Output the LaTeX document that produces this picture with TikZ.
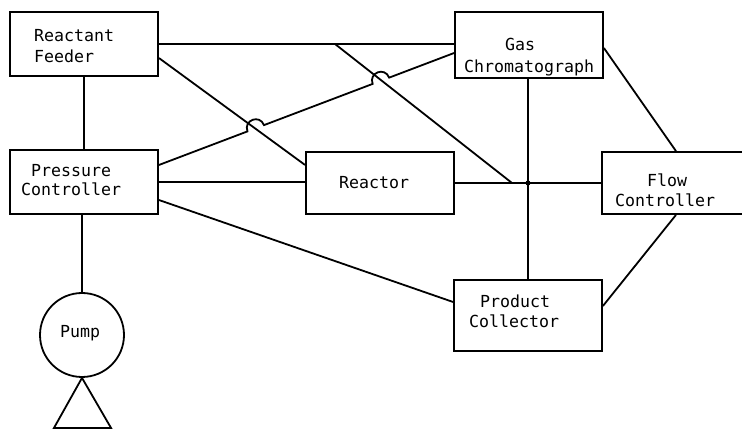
\documentclass[tikz,border=0pt]{standalone}
\usepackage{fontspec}
\newfontfamily\diagmono{DejaVu Sans Mono}
\usetikzlibrary{calc}
\begin{document}
\begin{tikzpicture}[x=1pt,y=1pt,
  box/.style={draw, line width=1.8pt, rectangle, inner sep=0pt},
  conn/.style={line width=1.8pt},
  lbl/.style={font=\diagmono\fontsize{16.6}{20}\selectfont, inner sep=0pt, anchor=base west}]
\useasboundingbox (0,0) rectangle (742,-430);
\clip (0,0) rectangle (742,-430);
% boxes
\node[box, minimum width=148, minimum height=64] (RF) at (84,-44) {};
\node[box, minimum width=148, minimum height=64] (PC) at (84,-182) {};
\node[box, minimum width=148, minimum height=62] (RE) at (380,-183) {};
\node[box, minimum width=148, minimum height=66] (GC) at (529,-45) {};
\node[box, minimum width=148, minimum height=62] (FC) at (676,-183) {};
\node[box, minimum width=148, minimum height=71] (PR) at (528,-315.5) {};
\node[draw, line width=1.8pt, circle, inner sep=0pt, minimum size=84] (PU) at (82,-335) {};
% labels
\node[lbl] (tRF1) at (34,-42) {Reactant};
\node[lbl] (tRF2) at (34,-63) {Feeder};
\node[lbl] (tPC1) at (31,-177) {Pressure};
\node[lbl] (tPC2) at (21,-196) {Controller};
\node[lbl] (tRE) at (339,-189) {Reactor};
\node[lbl] (tGC1) at (505,-51) {Gas};
\node[lbl] (tGC2) at (464,-73) {Chromatograph};
\node[lbl] (tFC1) at (647,-187) {Flow};
\node[lbl] (tFC2) at (615,-207) {Controller};
\node[lbl] (tPR1) at (480,-308) {Product};
\node[lbl] (tPR2) at (469,-328) {Collector};
\node[lbl] (tPU) at (60,-338) {Pump};
% connectors
\draw[conn] (RF.east) -- (RF.east -| GC.west);
\draw[conn] (RF.south) -- (RF.south |- PC.north);
\draw[conn] (PU.north |- PC.south) -- (PU.north);
\draw[conn] ([yshift=-14pt]RF.east) -- ([yshift=18pt]RE.west);
\coordinate (d1) at (335,-44);
\coordinate (d2) at (512,-183);
\draw[conn] (d1) -- (d2);
\draw[conn] (PC.east) -- (PC.east -| RE.west);
\draw[conn] (RE.east) -- (RE.east -| FC.west);
\draw[conn] (PR.north |- GC.south) -- (PR.north);
\node[circle, fill, inner sep=0pt, minimum size=5pt] (jn) at (PR.north |- RE.east) {};
\draw[conn] ([yshift=-3pt]GC.east) -- (FC.north);
\draw[conn] (FC.south) -- ([yshift=9.5pt]PR.east);
\draw[conn] ([yshift=-18pt]PC.east) -- ([yshift=13.5pt]PR.west);
% pressure controller to gas chromatograph, with two hops
\coordinate (pa) at ([yshift=17pt]PC.east);
\coordinate (pb) at ([yshift=-8pt]GC.west);
\coordinate (h1a) at ($(pa)!0.300!(pb)$);
\coordinate (h1b) at ($(pa)!0.356!(pb)$);
\coordinate (h2a) at ($(pa)!0.724!(pb)$);
\coordinate (h2b) at ($(pa)!0.780!(pb)$);
\draw[conn] (pa) -- (h1a)
  .. controls ($(h1a)!12pt!90:(pb)$) and ($(h1b)!12pt!-90:(pa)$) .. (h1b)
  -- (h2a)
  .. controls ($(h2a)!12pt!90:(pb)$) and ($(h2b)!12pt!-90:(pa)$) .. (h2b)
  -- (pb);
% pump outlet triangle
\draw[conn, line join=miter] (PU.south) -- ++(-28,-50) -- ++(57,0) -- cycle;
\end{tikzpicture}
\end{document}
